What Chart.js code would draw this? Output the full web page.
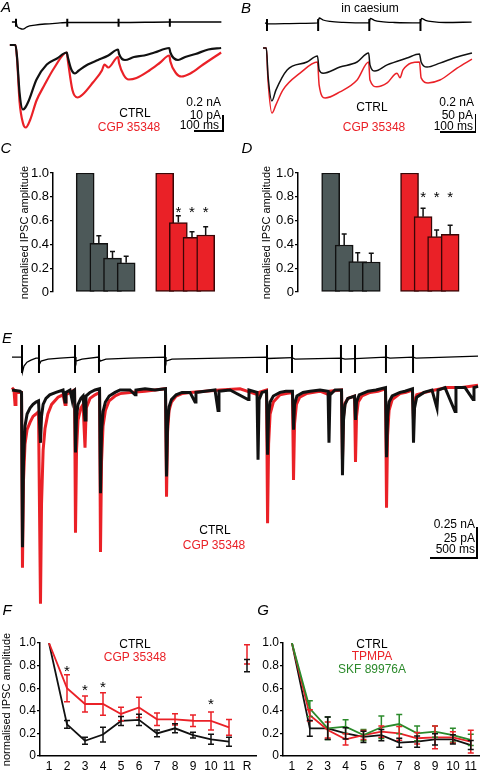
<!DOCTYPE html>
<html>
<head>
<meta charset="utf-8">
<script src="https://cdn.jsdelivr.net/npm/chart.js@4.4.1/dist/chart.umd.min.js"></script>
<style>
  body { margin: 0; background: #fff; }
  #fig { position: relative; width: 480px; height: 771px; overflow: hidden; background: #fff;
         font-family: Arial, "Liberation Sans", sans-serif; }
  #fig canvas { position: absolute; }
  .txt { position: absolute; font-size: 12px; line-height: 14px; white-space: nowrap; color: #000; }
  .bar { position: absolute; background: #000; }
</style>
</head>
<body>
<div id="fig"></div>
<script>
const RED = '#ea2127';
const GREEN = '#2b8a2b';
const GREY = '#4d5959';

// ---- A: 5 Hz train (ms, pA / nA)
const stimA = [0, 200, 400, 600];
const artA = [0.04, -0.06];
const stimRespA = [[-16,0],[0,0],[4,-0.05],[16,-0.08],[27,-0.09],[43,-0.06],[74,-0.04],[113,-0.025],[172,-0.012],[199,-0.006],[406,-0.006],[601,0],[801,0]];
const ctrlA = [[-24,0],[-2,0],[4,-8],[14,-32],[27,-43],[35,-42],[50,-37],[80,-23],[120,-13],[160,-9],[198,-5],[202,-8],[215,-16],[230,-19],[245,-17],[280,-13],[320,-10],[360,-7],[398,-3],[402,-6],[425,-10],[460,-8],[500,-7],[540,-5],[598,-2],[602,-5],[632,-10],[660,-8],[700,-6],[750,-3],[800,-2]];
const cgpA = [[-24,0],[-2,0],[4,-9],[14,-38],[27,-52],[38,-55],[55,-50],[80,-37],[110,-27],[150,-15],[198,-5],[202,-10],[220,-30],[240,-35],[260,-33],[300,-25],[335,-17],[345,-13],[360,-15],[398,-8],[402,-12],[420,-20],[440,-23],[470,-22],[520,-17],[560,-12],[598,-7],[602,-11],[625,-19],[645,-21],[680,-19],[730,-13],[800,-5]];

// ---- B: in caesium
const stimB = [0, 155, 310, 465];
const artB = [0.044, -0.089];
const stimRespB = [[-6,0],[5,-0.01],[100,-0.005],[154,0],[158,0.055],[170,0.033],[191,0.017],[231,0.006],[309,0],[313,0.05],[325,0.03],[346,0.015],[386,0.005],[464,0],[468,0.05],[480,0.03],[501,0.015],[541,0.005],[620,0.01]];
const ctrlB = [[-12,0],[-2,0],[3,-75],[15,-147],[27,-117],[61,-61],[121,-39],[153,-22],[158,-61],[170,-70],[221,-53],[273,-39],[308,-14],[312,-47],[327,-64],[364,-47],[424,-28],[462,-17],[467,-39],[485,-53],[524,-42],[576,-25],[621,-14]];
const cgpB = [[-12,0],[-2,0],[3,-89],[15,-181],[27,-158],[48,-117],[100,-70],[153,-39],[158,-103],[176,-139],[221,-122],[273,-89],[308,-39],[312,-89],[333,-108],[364,-97],[394,-70],[403,-83],[412,-61],[462,-39],[467,-83],[488,-97],[524,-89],[576,-56],[621,-31]];

// ---- C / D: normalised IPSC amplitude, stimulus 1-4
const cCtrl = [1, 0.41, 0.285, 0.245];
const cCtrlErr = [0, 0.063, 0.055, 0.055];
const cCgp = [1, 0.583, 0.46, 0.479];
const cCgpErr = [0, 0.057, 0.047, 0.07];
const cStars = [null, 0.71, 0.71, 0.71];
const dCtrl = [1, 0.395, 0.255, 0.252];
const dCtrlErr = [0, 0.092, 0.075, 0.073];
const dCgp = [1, 0.633, 0.465, 0.485];
const dCgpErr = [0, 0.07, 0.055, 0.075];
const dStars = [null, 0.83, 0.83, 0.83];

// ---- E: irregular train
const stimE = [106, 286, 668, 922, 1622, 2703, 2968, 3487, 3636, 3964, 4251];
const artE = [0.1, -0.133];
const stimRespE = [[0,0],[101,0],[111,-0.125],[127,-0.075],[159,-0.042],[201,-0.025],[254,-0.008],[286,-0.008],[292,-0.058],[308,-0.033],[382,-0.017],[509,-0.008],[668,0],[678,-0.033],[742,-0.017],[922,0],[933,-0.033],[996,-0.017],[1251,-0.008],[1622,0],[1632,-0.033],[1696,-0.017],[2205,-0.008],[2703,0],[2714,-0.012],[2968,-0.004],[2999,-0.017],[3487,-0.008],[3530,-0.017],[3964,0],[4006,-0.008],[4251,0],[4282,-0.008],[4940,0.008]];
const ctrlE = [[0,0],[85,-1],[101,-2],[111,-131],[122,-60],[138,-30],[160,-20],[191,-15],[223,-12],[254,-10],[281,-9],[302,-44],[313,-22],[330,-12],[360,-7],[400,-4],[466,-2],[541,0],[562,-10],[572,-2],[615,0],[636,-8],[647,-1],[663,0],[673,-52],[684,-22],[700,-12],[730,-7],[753,-5],[774,-25],[784,-5],[827,-2],[880,0],[928,1],[938,-86],[949,-35],[965,-18],[990,-10],[1030,-5],[1092,-2],[1145,0],[1251,0],[1304,-4],[1314,0],[1410,1],[1516,0],[1627,1],[1638,-72],[1649,-28],[1665,-14],[1690,-8],[1740,-4],[1802,-2],[1887,-2],[1940,-10],[1950,-2],[2046,-1],[2152,0],[2184,-17],[2194,-1],[2311,0],[2502,-8],[2512,0],[2597,-2],[2608,-58],[2619,-8],[2650,-2],[2698,-1],[2709,-54],[2720,-20],[2736,-10],[2770,-5],[2841,-2],[2904,-1],[2973,-1],[2984,-33],[2995,-12],[3020,-5],[3085,-2],[3159,-1],[3265,0],[3350,-1],[3360,-44],[3371,-4],[3424,0],[3493,0],[3503,-71],[3514,-25],[3530,-12],[3560,-7],[3631,-5],[3641,-25],[3652,-10],[3680,-4],[3774,-1],[3858,0],[3959,2],[3970,-56],[3981,-22],[3997,-10],[4030,-5],[4113,-2],[4166,-1],[4245,1],[4256,-44],[4267,-15],[4290,-6],[4367,-2],[4452,0],[4505,-15],[4516,0],[4590,2],[4696,-18],[4706,2],[4802,2],[4887,-8],[4897,2],[4940,3]];
const cgpE = [[0,2],[21,0],[32,-12],[42,-2],[101,-2],[111,-148],[122,-75],[138,-45],[160,-33],[191,-27],[223,-22],[254,-20],[281,-18],[302,-178],[313,-95],[330,-50],[350,-32],[380,-20],[420,-12],[488,-6],[541,-4],[562,-12],[572,-4],[615,-2],[663,0],[673,-119],[684,-50],[700,-25],[730,-15],[753,-12],[774,-48],[787,-15],[827,-7],[880,-4],[928,-2],[938,-135],[949,-60],[965,-30],[990,-17],[1030,-9],[1092,-5],[1145,-3],[1251,-2],[1410,-1],[1627,1],[1638,-89],[1649,-35],[1665,-17],[1690,-10],[1740,-5],[1802,-3],[1887,-2],[2046,-1],[2205,0],[2417,1],[2608,-4],[2618,-2],[2698,0],[2709,-111],[2720,-45],[2736,-20],[2770,-10],[2841,-4],[2904,-3],[2973,-2],[2984,-75],[2995,-28],[3015,-12],[3050,-6],[3120,-3],[3265,-1],[3360,-4],[3371,-1],[3493,0],[3503,-58],[3514,-22],[3530,-11],[3560,-7],[3631,-5],[3641,-60],[3652,-22],[3670,-10],[3710,-5],[3795,-2],[3880,-1],[3959,1],[3970,-98],[3981,-38],[3997,-17],[4030,-8],[4113,-3],[4176,-2],[4245,0],[4256,-25],[4267,-10],[4290,-4],[4378,-2],[4484,0],[4611,2],[4770,2],[4940,4]];

// ---- F: CTRL vs CGP 35348, stimulus 1-11 and recovery (R)
const fCats = ['1','2','3','4','5','6','7','8','9','10','11','R'];
const ctrlF = [1, 0.28, 0.135, 0.19, 0.31, 0.32, 0.2, 0.245, 0.185, 0.148, 0.127, 0.8];
const ctrlFErr = [0, 0.035, 0.03, 0.065, 0.04, 0.05, 0.03, 0.04, 0.025, 0.045, 0.04, 0.055];
const cgpF = [1, 0.6, 0.46, 0.46, 0.372, 0.43, 0.325, 0.325, 0.312, 0.31, 0.254, 0.9];
const cgpFErr = [0, 0.12, 0.07, 0.1, 0.06, 0.09, 0.055, 0.05, 0.05, 0.08, 0.07, 0.085];
const fStars = [null, 0.79, 0.62, 0.65, null, null, null, null, null, 0.5, null, null];

// ---- G: CTRL, TPMPA, SKF 89976A
const gCats = ['1','2','3','4','5','6','7','8','9','10','11'];
const ctrlG = [1, 0.245, 0.245, 0.2, 0.17, 0.185, 0.118, 0.127, 0.147, 0.147, 0.097];
const ctrlGErr = [0, 0.07, 0.1, 0.05, 0.05, 0.05, 0.04, 0.05, 0.05, 0.04, 0.04];
const tpmpaG = [1, 0.36, 0.23, 0.148, 0.185, 0.215, 0.2, 0.157, 0.165, 0.165, 0.127];
const tpmpaGErr = [0, 0.05, 0.07, 0.05, 0.04, 0.05, 0.06, 0.05, 0.1, 0.05, 0.1];
const skfG = [1, 0.42, 0.245, 0.26, 0.185, 0.254, 0.283, 0.2, 0.215, 0.185, 0.142];
const skfGErr = [0, 0.07, 0.1, 0.06, 0.05, 0.1, 0.085, 0.065, 0.05, 0.06, 0.05];

Chart.defaults.font.family = 'Arial, "Liberation Sans", sans-serif';
Chart.defaults.color = '#000';

const fig = document.getElementById('fig');

function makeCanvas(left, top, w, h) {
  const cv = document.createElement('canvas');
  cv.width = w; cv.height = h;
  cv.style.left = left + 'px'; cv.style.top = top + 'px';
  cv.style.width = w + 'px'; cv.style.height = h + 'px';
  fig.appendChild(cv);
  return cv;
}

function txt(s, x, y, opts = {}) {
  const d = document.createElement('div');
  d.className = 'txt';
  d.textContent = s;
  d.style.left = x + 'px'; d.style.top = y + 'px';
  d.style.transform = opts.right ? 'translate(-100%,-50%)' : 'translate(-50%,-50%)';
  if (opts.color) d.style.color = opts.color;
  if (opts.size) d.style.fontSize = opts.size + 'px';
  if (opts.italic) d.style.fontStyle = 'italic';
  fig.appendChild(d);
}

function rule(left, top, w, h) {
  const d = document.createElement('div');
  d.className = 'bar';
  d.style.left = left + 'px'; d.style.top = top + 'px';
  d.style.width = w + 'px'; d.style.height = h + 'px';
  fig.appendChild(d);
}

const pts = arr => arr.map(([x, y]) => ({x, y}));

// error bars + significance stars, drawn through the chart's own scales
const errPlugin = {
  id: 'errPlugin',
  afterDatasetsDraw(chart) {
    const ctx = chart.ctx;
    const y = chart.scales.y;
    chart.data.datasets.forEach((ds, i) => {
      const meta = chart.getDatasetMeta(i);
      ctx.save();
      if (ds.errors) {
        ctx.strokeStyle = ds.errColor || ds.borderColor;
        ctx.lineWidth = 1.5;
        meta.data.forEach((el, j) => {
          const e = ds.errors[j];
          if (!e) return;
          const raw = ds.data[j];
          const v = typeof raw === 'object' ? raw.y : raw;
          const x = el.x;
          const yt = y.getPixelForValue(v + e);
          const yb = y.getPixelForValue(ds.upOnly ? v : v - e);
          const w = ds.capW || 3;
          ctx.beginPath();
          ctx.moveTo(x, yb); ctx.lineTo(x, yt);
          ctx.moveTo(x - w, yt); ctx.lineTo(x + w, yt);
          if (!ds.upOnly) { ctx.moveTo(x - w, yb); ctx.lineTo(x + w, yb); }
          ctx.stroke();
        });
      }
      if (ds.stars) {
        ctx.fillStyle = '#000';
        ctx.font = '15px Arial, "Liberation Sans", sans-serif';
        ctx.textAlign = 'center';
        ctx.textBaseline = 'alphabetic';
        meta.data.forEach((el, j) => {
          const s = ds.stars[j];
          if (s == null) return;
          ctx.fillText('*', el.x, y.getPixelForValue(s) + 9);
        });
      }
      ctx.restore();
    });
  }
};

const baseOpts = {
  responsive: false,
  animation: false,
  events: [],
  plugins: { legend: { display: false }, tooltip: { enabled: false } }
};

// raw trace panels: axes hidden, ranges chosen so the traces sit where they do in the figure
function traceChart(box, xr, yr, datasets, smooth) {
  const cv = makeCanvas(...box);
  new Chart(cv, {
    type: 'line',
    data: { datasets },
    options: Object.assign({}, baseOpts, {
      layout: { padding: 0 },
      elements: { point: { radius: 0 },
        line: smooth ? { cubicInterpolationMode: 'monotone' } : { tension: 0 } },
      scales: {
        x: { type: 'linear', display: false, min: xr[0], max: xr[1] },
        y: { type: 'linear', display: false, min: yr[0], max: yr[1] }
      }
    })
  });
}

function stimSets(stims, art, resp) {
  return [
    { data: pts(resp), borderColor: '#000', borderWidth: 1.3 },
    { data: stims.flatMap(s => [{x: s, y: art[0]}, {x: s, y: art[1]}, {x: s, y: null}]),
      borderColor: '#000', borderWidth: 2, spanGaps: false }
  ];
}

// A
traceChart([0, 12, 230, 22], [-62.4, 834.6], [-0.15, 0.125], stimSets(stimA, artA, stimRespA), true);
traceChart([0, 35, 230, 100], [-62.4, 834.6], [-60, 6.67], [
  { data: pts(ctrlA), borderColor: '#111', borderWidth: 2.2 },
  { data: pts(cgpA), borderColor: RED, borderWidth: 2.2 }
], true);
// B
traceChart([240, 10, 240, 28], [-81.8, 645.4], [-0.167, 0.144], stimSets(stimB, artB, stimRespB), true);
traceChart([240, 35, 240, 90], [-81.8, 645.4], [-214, 36.1], [
  { data: pts(ctrlB), borderColor: '#111', borderWidth: 1.5 },
  { data: pts(cgpB), borderColor: RED, borderWidth: 1.5 }
], true);
// E
traceChart([0, 338, 480, 42], [-127.2, 4960.8], [-0.19, 0.158], stimSets(stimE, artE, stimRespE), false);
traceChart([0, 375, 480, 235], [-127.2, 4960.8], [-183.3, 12.5], [
  { data: pts(ctrlE), borderColor: '#111', borderWidth: 3 },
  { data: pts(cgpE), borderColor: RED, borderWidth: 3 }
], false);

// C / D bar charts
function yAxis(width, title, tickSize) {
  return {
    min: 0, max: 1,
    ticks: { stepSize: 0.2, font: { size: tickSize || 12 }, color: '#000', padding: 1 },
    grid: { drawOnChartArea: false, drawTicks: true, tickLength: 3, color: '#000', lineWidth: 1.3 },
    border: { display: true, color: '#000', width: 1.5 },
    title: { display: !!title, text: title, font: { size: 11 }, color: '#000', padding: { top: 0, bottom: 0 } },
    afterFit(s) { s.width = width; }
  };
}

function barChart(box, padLeft, axisW, xr, ctrl, ctrlErr, cgp, cgpErr, stars) {
  const cv = makeCanvas(...box);
  new Chart(cv, {
    type: 'bar',
    data: {
      datasets: [
        { data: ctrl.map((v, i) => ({x: i + 1, y: v})), backgroundColor: GREY, borderColor: '#111',
          borderWidth: 1.5, borderSkipped: false, barThickness: 18, errors: ctrlErr, upOnly: true, errColor: '#111', capW: 2.5 },
        { data: cgp.map((v, i) => ({x: i + 5.5, y: v})), backgroundColor: RED, borderColor: '#3a0606',
          borderWidth: 1.5, borderSkipped: false, barThickness: 18, errors: cgpErr, upOnly: true, errColor: '#111', capW: 2.5, stars }
      ]
    },
    options: Object.assign({}, baseOpts, {
      layout: { padding: { left: padLeft, top: 23, bottom: 10, right: 0 } },
      scales: {
        x: { type: 'linear', display: false, min: xr[0], max: xr[1] },
        y: yAxis(axisW, 'normalised IPSC amplitude', 13)
      }
    }),
    plugins: [errPlugin]
  });
}

barChart([0, 150, 240, 152], 18, 35, [0.268, 9.39], cCtrl, cCtrlErr, cCgp, cCgpErr, cStars);
barChart([240, 150, 240, 152], 20, 38, [0.163, 9.13], dCtrl, dCtrlErr, dCgp, dCgpErr, dStars);

// F / G line charts with error bars
function xAxis() {
  return {
    type: 'category', offset: true,
    grid: { display: false, drawTicks: false },
    border: { display: true, color: '#000', width: 1.5 },
    ticks: { color: '#000', font: { size: 12 }, padding: 3, autoSkip: false, maxRotation: 0 },
    afterFit(s) { s.height = 15; }
  };
}

function lineSet(vals, errs, color, extra) {
  return Object.assign({ data: vals, borderColor: color, borderWidth: 1.8, errors: errs, capW: 3,
    pointRadius: 0, tension: 0 }, extra || {});
}

const hideLast = n => ({ borderColor: c => c.p1DataIndex === n ? 'rgba(0,0,0,0)' : undefined });

new Chart(makeCanvas(0, 625, 258, 146), {
  type: 'line',
  data: {
    labels: fCats,
    datasets: [
      lineSet(cgpF, cgpFErr, RED, { segment: hideLast(11) }),
      lineSet(ctrlF, ctrlFErr, '#111', { segment: hideLast(11), stars: fStars })
    ]
  },
  options: Object.assign({}, baseOpts, {
    layout: { padding: { left: 0, top: 18, right: 2, bottom: 0 } },
    scales: { x: xAxis(), y: yAxis(40, 'normalised IPSC amplitude') }
  }),
  plugins: [errPlugin]
});

new Chart(makeCanvas(240, 625, 240, 146), {
  type: 'line',
  data: {
    labels: gCats,
    datasets: [
      lineSet(skfG, skfGErr, GREEN),
      lineSet(tpmpaG, tpmpaGErr, RED),
      lineSet(ctrlG, ctrlGErr, '#111')
    ]
  },
  options: Object.assign({}, baseOpts, {
    layout: { padding: { left: 0, top: 18, right: 0, bottom: 0 } },
    scales: { x: xAxis(), y: yAxis(43, '') }
  }),
  plugins: [errPlugin]
});

// panel letters
[['A', 6, 7], ['B', 246, 8], ['C', 6, 148], ['D', 247, 148], ['E', 7, 338], ['F', 7, 610], ['G', 263, 610]]
  .forEach(([s, x, y]) => txt(s, x, y, { italic: true, size: 15 }));

txt('in caesium', 370, 8);

// condition labels
txt('CTRL', 135, 113);
txt('CGP 35348', 129, 127, { color: RED });
txt('CTRL', 372, 107);
txt('CGP 35348', 374, 127, { color: RED });
txt('CTRL', 215, 530);
txt('CGP 35348', 214, 545, { color: RED });
txt('CTRL', 135, 644);
txt('CGP 35348', 135, 657, { color: RED });
txt('CTRL', 372, 644);
txt('TPMPA', 372, 656, { color: RED });
txt('SKF 89976A', 372, 669, { color: GREEN });

// scale bars
txt('0.2 nA', 221, 102, { right: true });
txt('10 pA', 221, 115, { right: true });
txt('100 ms', 219, 125, { right: true });
rule(222, 115, 1.5, 16);
rule(194, 130, 30, 1.5);

txt('0.2 nA', 474, 102, { right: true });
txt('50 pA', 473, 115, { right: true });
txt('100 ms', 473, 126, { right: true });
rule(474.5, 114, 1.5, 18);
rule(440, 131, 36, 1.5);

txt('0.25 nA', 475, 524, { right: true });
txt('25 pA', 475, 538, { right: true });
txt('500 ms', 475, 549, { right: true });
rule(476, 527, 1.5, 31);
rule(430, 557, 47.5, 1.5);
</script>
</body>
</html>
